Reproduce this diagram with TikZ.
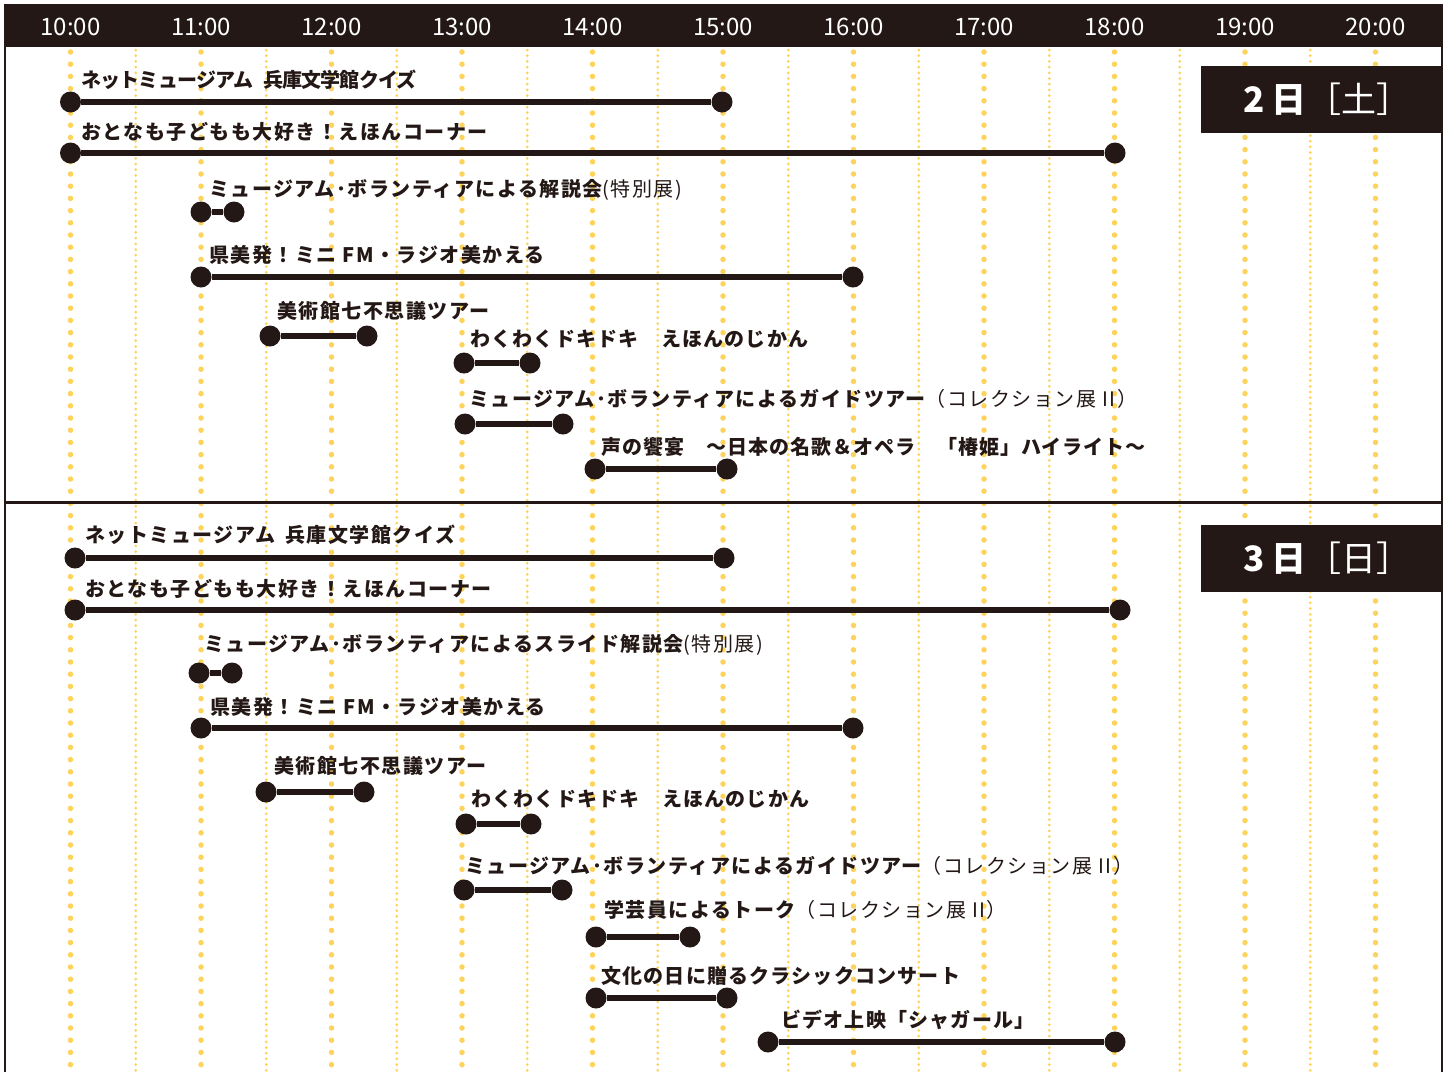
\documentclass[tikz,border=0pt]{standalone}
\usepackage{fontspec}
\setmainfont{Noto Sans CJK JP}
\definecolor{ink}{HTML}{231815}
\definecolor{dotyel}{HTML}{FDD35C}

\tikzset{
  hourline/.style={dotyel, line width=5.5pt, line cap=round, dash pattern=on 0pt off 12.2pt},
  halfline/.style={dotyel, line width=3pt, line cap=round, dash pattern=on 0pt off 5.7pt},
  pt/.style={circle, fill=ink, minimum size=21pt, inner sep=0pt},
  bar/.style={ink, line width=5.5pt},
  lbl/.style={anchor=west, text=ink, inner sep=0pt,
    font=\fontsize{20}{22}\selectfont\bfseries\addfontfeatures{LetterSpace=#1}},
  lbl/.default=7.5,
  hourlbl/.style={text=white, inner sep=0pt, font=\fontsize{24}{26}\selectfont},
  daybox/.style={fill=ink, text=white, inner sep=0pt, minimum width=241pt, minimum height=67pt,
    font=\fontsize{35}{38}\selectfont},
}

\begin{document}
\begin{tikzpicture}[x=1pt, y=-1pt]
	\useasboundingbox[fill=white] (0,0) rectangle (1449,1072);
	% time grid
	\foreach \k in {0,...,10}
		\draw[hourline] (70.5+130.5*\k,52) -- (70.5+130.5*\k,1072);
	\foreach \k in {0,...,9}
		\draw[halfline] (135.75+130.5*\k,50) -- (135.75+130.5*\k,1072);
	% header
	\fill[ink] (5,5) rectangle (1442,47);
	\foreach \h [count=\k from 0] in {10,...,20}
		\node[hourlbl] (hr\h) at (70.5+130.5*\k,27) {\h:00};
	\draw[ink, line width=2pt] (5,1072) -- (5,5) -- (1442,5) -- (1442,1072);
	\draw[ink, line width=3pt] (5,502) -- (1442,502);

	% 2日 土
	\node[daybox] (sat) at (1321.5,99.5) {\hspace{12pt}\bfseries 2\hspace{6pt}日\mdseries［土］};
	\node[pt] (sat1a) at (70.5,102) {};
	\node[pt] (sat1b) at (722,102) {};
	\draw[bar] (sat1a) -- (sat1b);
	\node[lbl=-4] (sat1t) at (81,80) {ネットミュージアム\hspace{.5em}兵庫文学館クイズ};
	\node[pt] (sat2a) at (70.5,153) {};
	\node[pt] (sat2b) at (1115,153) {};
	\draw[bar] (sat2a) -- (sat2b);
	\node[lbl] (sat2t) at (81,132) {おとなも子どもも大好き！えほんコーナー};
	\node[pt] (sat3a) at (201,212) {};
	\node[pt] (sat3b) at (234,212) {};
	\draw[bar] (sat3a) -- (sat3b);
	\node[lbl] (sat3t) at (209,190) {ミュージアム･ボランティアによる解説会\mdseries (特別展)};
	\node[pt] (sat4a) at (201,277) {};
	\node[pt] (sat4b) at (853,277) {};
	\draw[bar] (sat4a) -- (sat4b);
	\node[lbl] (sat4t) at (209,255) {県美発！ミニ FM・ラジオ美かえる};
	\node[pt] (sat5a) at (270,336) {};
	\node[pt] (sat5b) at (367,336) {};
	\draw[bar] (sat5a) -- (sat5b);
	\node[lbl] (sat5t) at (277,311) {美術館七不思議ツアー};
	\node[pt] (sat6a) at (464,363) {};
	\node[pt] (sat6b) at (530,363) {};
	\draw[bar] (sat6a) -- (sat6b);
	\node[lbl=6] (sat6t) at (470,339) {わくわくドキドキ　えほんのじかん};
	\node[pt] (sat7a) at (465,424) {};
	\node[pt] (sat7b) at (563,424) {};
	\draw[bar] (sat7a) -- (sat7b);
	\node[lbl] (sat7t) at (469,399) {ミュージアム･ボランティアによるガイドツアー\mdseries （コレクション展 II）};
	\node[pt] (sat8a) at (595,469) {};
	\node[pt] (sat8b) at (727,469) {};
	\draw[bar] (sat8a) -- (sat8b);
	\node[lbl=5] (sat8t) at (601,447) {声の饗宴　～日本の名歌＆オペラ　「椿姫」ハイライト～};

	% 3日 日
	\node[daybox] (sun) at (1321.5,558.5) {\hspace{12pt}\bfseries 3\hspace{6pt}日\mdseries［日］};
	\node[pt] (sun1a) at (75,558) {};
	\node[pt] (sun1b) at (724,558) {};
	\draw[bar] (sun1a) -- (sun1b);
	\node[lbl] (sun1t) at (85,535) {ネットミュージアム\hspace{.5em}兵庫文学館クイズ};
	\node[pt] (sun2a) at (75,610) {};
	\node[pt] (sun2b) at (1120,610) {};
	\draw[bar] (sun2a) -- (sun2b);
	\node[lbl] (sun2t) at (85,589) {おとなも子どもも大好き！えほんコーナー};
	\node[pt] (sun3a) at (199,673) {};
	\node[pt] (sun3b) at (232,673) {};
	\draw[bar] (sun3a) -- (sun3b);
	\node[lbl] (sun3t) at (204,645) {ミュージアム･ボランティアによるスライド解説会\mdseries (特別展)};
	\node[pt] (sun4a) at (201,728) {};
	\node[pt] (sun4b) at (853,728) {};
	\draw[bar] (sun4a) -- (sun4b);
	\node[lbl] (sun4t) at (210,707) {県美発！ミニ FM・ラジオ美かえる};
	\node[pt] (sun5a) at (266,792) {};
	\node[pt] (sun5b) at (364,792) {};
	\draw[bar] (sun5a) -- (sun5b);
	\node[lbl] (sun5t) at (274,766) {美術館七不思議ツアー};
	\node[pt] (sun6a) at (466,824) {};
	\node[pt] (sun6b) at (531,824) {};
	\draw[bar] (sun6a) -- (sun6b);
	\node[lbl=6] (sun6t) at (471,799) {わくわくドキドキ　えほんのじかん};
	\node[pt] (sun7a) at (464,890) {};
	\node[pt] (sun7b) at (562,890) {};
	\draw[bar] (sun7a) -- (sun7b);
	\node[lbl] (sun7t) at (465,866) {ミュージアム･ボランティアによるガイドツアー\mdseries （コレクション展 II）};
	\node[pt] (sun8a) at (596,937) {};
	\node[pt] (sun8b) at (690,937) {};
	\draw[bar] (sun8a) -- (sun8b);
	\node[lbl] (sun8t) at (604,910) {学芸員によるトーク\mdseries （コレクション展 II）};
	\node[pt] (sun9a) at (596,998) {};
	\node[pt] (sun9b) at (727,998) {};
	\draw[bar] (sun9a) -- (sun9b);
	\node[lbl=6] (sun9t) at (601,976) {文化の日に贈るクラシックコンサート};
	\node[pt] (sun10a) at (768,1042) {};
	\node[pt] (sun10b) at (1115,1042) {};
	\draw[bar] (sun10a) -- (sun10b);
	\node[lbl=6] (sun10t) at (781,1020) {ビデオ上映「シャガール」};
\end{tikzpicture}
\end{document}
